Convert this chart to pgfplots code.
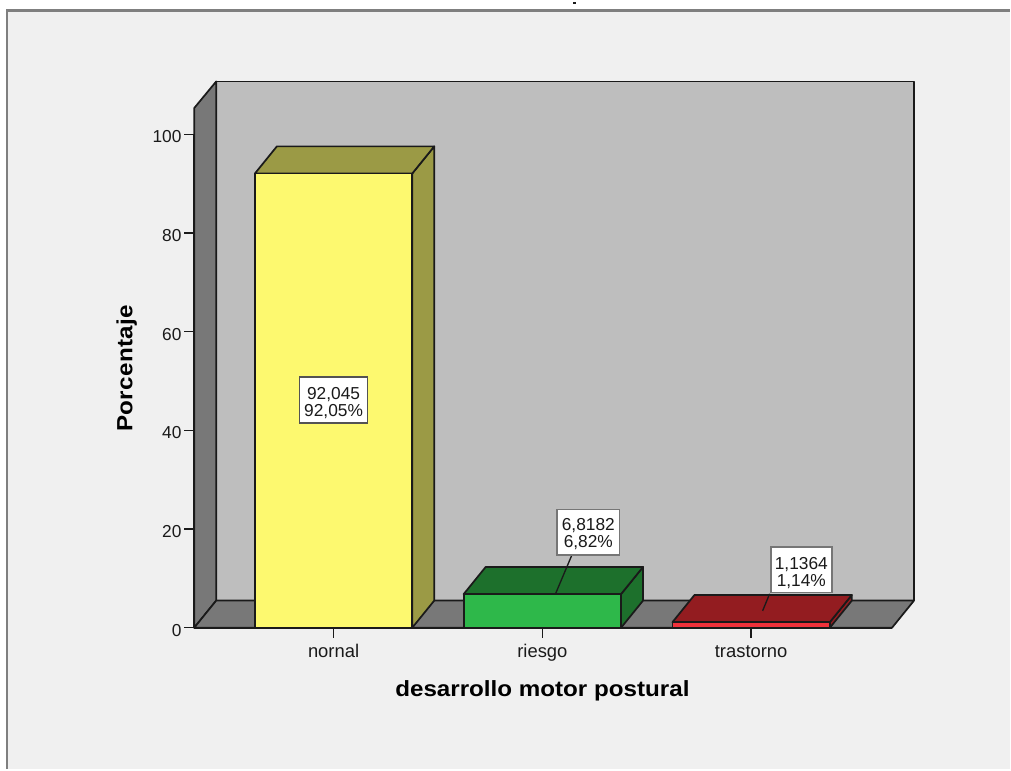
\documentclass[border=0pt]{standalone}
\usepackage{fontspec}
\setmainfont{Liberation Sans}
\newfontfamily\xtitlefont[FakeStretch=1.1]{Liberation Sans}
\newfontfamily\ytitlefont[FakeStretch=1.1,LetterSpace=1.5]{Liberation Sans}
\usepackage{pgfplots}
\pgfplotsset{compat=1.18}

\definecolor{panel}{HTML}{F0F0F0}
\definecolor{framegray}{HTML}{7F7F7F}
\definecolor{wall}{HTML}{BEBEBE}
\definecolor{floorgray}{HTML}{787878}
\definecolor{inkdark}{HTML}{1A1A1A}
\definecolor{yellowfront}{HTML}{FDF96F}
\definecolor{yellowside}{HTML}{9B9A45}
\definecolor{greenfront}{HTML}{2EB84A}
\definecolor{greenside}{HTML}{1D702C}
\definecolor{redfront}{HTML}{F0313A}
\definecolor{redside}{HTML}{931C20}

\tikzset{
  box/.style={fill=#1,draw=inkdark,line width=1.3pt,line join=round},
  callout/.style={fill=white,draw=#1,line width=1.3pt,inner sep=0pt,minimum height=34.5pt},
  callouttext/.style={inner sep=0pt,text=inkdark,font=\fontsize{13}{12.5}\selectfont,align=center},
}

\begin{document}
\begin{tikzpicture}[x=0.75pt,y=0.75pt]
  % page and chart panel
  \fill[white] (0,0) rectangle (1011,-770);
  \fill[panel] (7,-10.5) rectangle (1011,-770);
  \draw[framegray,line width=1.6pt] (7,-770) -- (7,-10.5) -- (1011,-10.5);
  \fill[inkdark] (574,-2.5) rectangle (577,-4);

  \begin{axis}[
    at={(194.4*0.75pt,-628.4*0.75pt)}, anchor=south west,
    scale only axis,
    width=523.9pt, height=370.5pt,
    xmin=-0.6675, xmax=2.6746, ymin=0, ymax=100,
    clip=false,
    axis x line*=bottom, axis y line*=left,
    axis line style={-,draw=inkdark,line width=1.3pt},
    xtick={0,1,2}, xticklabels={nornal,riesgo,trastorno},
    ytick={0,20,40,60,80,100},
    tick align=outside, major tick length=7.5pt,
    tick style={draw=inkdark,line width=1pt},
    x tick label style={font=\fontsize{13.8}{14}\selectfont,text=inkdark,text height=11.25pt,text depth=3pt},
    y tick label style={font=\fontsize{13}{13}\selectfont,text=inkdark,xshift=1.5pt,yshift=-2pt},
    /pgf/number format/assume math mode=true,
    xlabel={\bfseries\xtitlefont desarrollo motor postural},
    ylabel={\bfseries\ytitlefont Porcentaje},
    every axis x label/.style={at={(axis description cs:0.499,-0.1285)},anchor=center,font=\fontsize{16.5}{17}\selectfont,text=black},
    every axis y label/.style={at={(axis description cs:-0.0966,0.5253)},anchor=center,rotate=90,font=\fontsize{16.5}{17}\selectfont,text=black},
  ]
    % box walls and floor
    \addplot[box=wall] coordinates {(-0.5622,5.5) (2.7799,5.5) (2.7799,110.7) (-0.5622,110.7)} --cycle;
    \addplot[box=floorgray] coordinates {(-0.6675,0) (-0.5622,5.5) (-0.5622,110.7) (-0.6675,105.3)} --cycle;
    \addplot[box=floorgray] coordinates {(-0.6675,0) (2.6746,0) (2.7799,5.5) (-0.5622,5.5)} --cycle;

    % normal
    \addplot[box=yellowside] coordinates {(0.3768,0) (0.4821,5.5) (0.4821,97.545) (0.3768,92.045)} --cycle;
    \addplot[box=yellowside] coordinates {(-0.3768,92.045) (0.3768,92.045) (0.4821,97.545) (-0.2715,97.545)} --cycle;
    \addplot[box=yellowfront] coordinates {(-0.3768,0) (0.3768,0) (0.3768,92.045) (-0.3768,92.045)} --cycle;

    % riesgo
    \addplot[box=greenside] coordinates {(1.3768,0) (1.4821,5.5) (1.4821,12.3182) (1.3768,6.8182)} --cycle;
    \addplot[box=greenside] coordinates {(0.6232,6.8182) (1.3768,6.8182) (1.4821,12.3182) (0.7285,12.3182)} --cycle;
    \addplot[box=greenfront] coordinates {(0.6232,0) (1.3768,0) (1.3768,6.8182) (0.6232,6.8182)} --cycle;

    % trastorno
    \addplot[box=redside] coordinates {(2.3768,0) (2.4821,5.5) (2.4821,6.6364) (2.3768,1.1364)} --cycle;
    \addplot[box=redside] coordinates {(1.6232,1.1364) (2.3768,1.1364) (2.4821,6.6364) (1.7285,6.6364)} --cycle;
    \addplot[box=redfront] coordinates {(1.6232,0) (2.3768,0) (2.3768,1.1364) (1.6232,1.1364)} --cycle;

    % callout leaders
    \addplot[draw=inkdark,line width=1pt] coordinates {(1.1397,14.57) (1.0631,6.88)};
    \addplot[draw=inkdark,line width=1pt] coordinates {(2.0885,6.88) (2.055,3.44)};

    % callouts
    \node[callout=inkdark!75,minimum width=51pt] at (axis cs:0,46.09) {};
    \node[callouttext,yshift=-2.25pt] at (axis cs:0,46.09) {92,045\\92,05\%};
    \node[callout=inkdark!60,minimum width=47pt] at (axis cs:1.2201,19.33) {};
    \node[callouttext,yshift=-1.2pt] at (axis cs:1.2201,19.33) {6,8182\\6,82\%};
    \node[callout=inkdark!60,minimum width=46pt] at (axis cs:2.2404,11.78) {};
    \node[callouttext,yshift=-2.5pt] at (axis cs:2.2404,11.78) {1,1364\\1,14\%};
  \end{axis}
\end{tikzpicture}
\end{document}
